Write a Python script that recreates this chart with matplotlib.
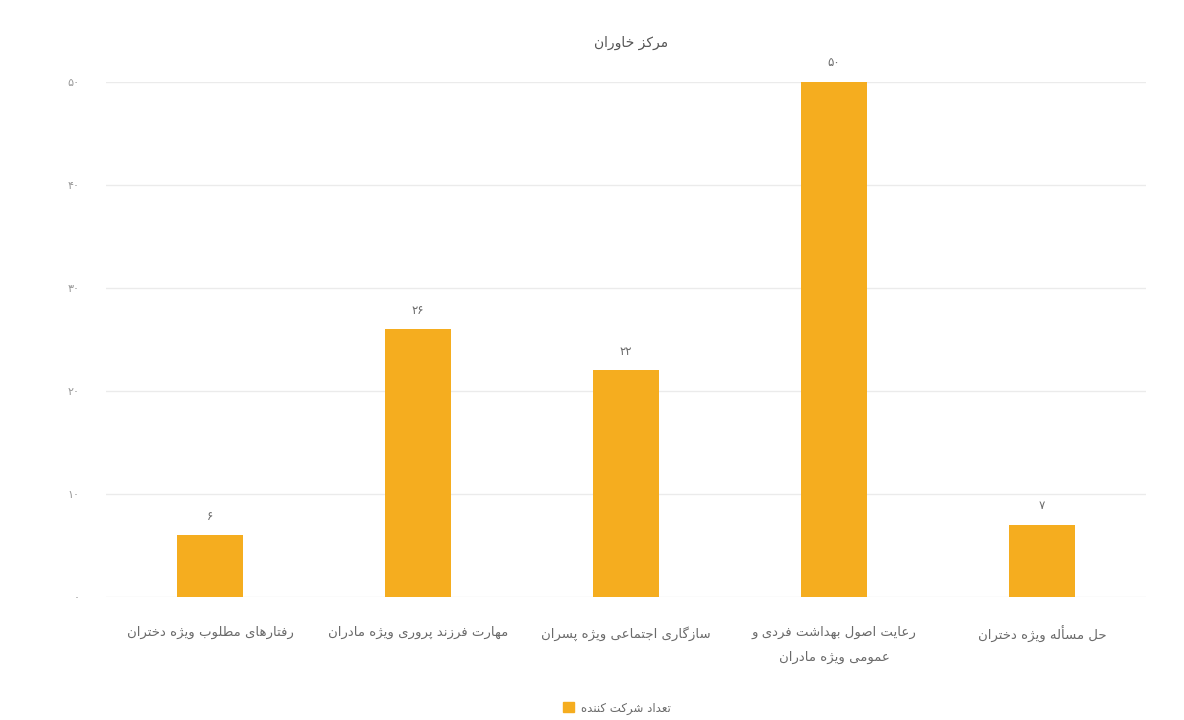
import matplotlib
matplotlib.use("Agg")
import matplotlib.pyplot as plt
from matplotlib.patches import Patch

# ---- data ----
title = "مرکز خاوران"
categories = [
    "رفتارهای مطلوب ویژه دختران",
    "مهارت فرزند پروری ویژه مادران",
    "سازگاری اجتماعی ویژه پسران",
    "رعایت اصول بهداشت فردی و\nعمومی ویژه مادران",
    "حل مسأله ویژه دختران",
]
participants = [6, 26, 22, 50, 7]
series_name = "تعداد شرکت کننده"
y_ticks = [0, 10, 20, 30, 40, 50]

# ---- minimal Arabic-script shaping (contextual forms + RTL order) ----
# letter: (isolated, final, initial, medial); None for initial/medial => right-joining only
FORMS = {
    "ا": (0xFE8D, 0xFE8E, None, None), "أ": (0xFE83, 0xFE84, None, None),
    "آ": (0xFE81, 0xFE82, None, None), "ب": (0xFE8F, 0xFE90, 0xFE91, 0xFE92),
    "پ": (0xFB56, 0xFB57, 0xFB58, 0xFB59), "ت": (0xFE95, 0xFE96, 0xFE97, 0xFE98),
    "ث": (0xFE99, 0xFE9A, 0xFE9B, 0xFE9C), "ج": (0xFE9D, 0xFE9E, 0xFE9F, 0xFEA0),
    "چ": (0xFB7A, 0xFB7B, 0xFB7C, 0xFB7D), "ح": (0xFEA1, 0xFEA2, 0xFEA3, 0xFEA4),
    "خ": (0xFEA5, 0xFEA6, 0xFEA7, 0xFEA8), "د": (0xFEA9, 0xFEAA, None, None),
    "ذ": (0xFEAB, 0xFEAC, None, None), "ر": (0xFEAD, 0xFEAE, None, None),
    "ز": (0xFEAF, 0xFEB0, None, None), "ژ": (0xFB8A, 0xFB8B, None, None),
    "س": (0xFEB1, 0xFEB2, 0xFEB3, 0xFEB4), "ش": (0xFEB5, 0xFEB6, 0xFEB7, 0xFEB8),
    "ص": (0xFEB9, 0xFEBA, 0xFEBB, 0xFEBC), "ض": (0xFEBD, 0xFEBE, 0xFEBF, 0xFEC0),
    "ط": (0xFEC1, 0xFEC2, 0xFEC3, 0xFEC4), "ظ": (0xFEC5, 0xFEC6, 0xFEC7, 0xFEC8),
    "ع": (0xFEC9, 0xFECA, 0xFECB, 0xFECC), "غ": (0xFECD, 0xFECE, 0xFECF, 0xFED0),
    "ف": (0xFED1, 0xFED2, 0xFED3, 0xFED4), "ق": (0xFED5, 0xFED6, 0xFED7, 0xFED8),
    "ک": (0xFB8E, 0xFB8F, 0xFB90, 0xFB91), "گ": (0xFB92, 0xFB93, 0xFB94, 0xFB95),
    "ل": (0xFEDD, 0xFEDE, 0xFEDF, 0xFEE0), "م": (0xFEE1, 0xFEE2, 0xFEE3, 0xFEE4),
    "ن": (0xFEE5, 0xFEE6, 0xFEE7, 0xFEE8), "ه": (0xFEE9, 0xFEEA, 0xFEEB, 0xFEEC),
    "و": (0xFEED, 0xFEEE, None, None), "ی": (0xFBFC, 0xFBFD, 0xFBFE, 0xFBFF),
    "ئ": (0xFE89, 0xFE8A, 0xFE8B, 0xFE8C),
}


def _dual(ch):
    return ch in FORMS and FORMS[ch][2] is not None


def shape_line(text):
    out = []
    n = len(text)
    for i, ch in enumerate(text):
        if ch not in FORMS:
            out.append(ch)
            continue
        prev_c = i > 0 and _dual(text[i - 1])
        next_c = _dual(ch) and i + 1 < n and text[i + 1] in FORMS
        iso, fin, ini, med = FORMS[ch]
        if prev_c and next_c:
            cp = med
        elif next_c:
            cp = ini
        elif prev_c:
            cp = fin
        else:
            cp = iso
        out.append(chr(cp))
    return "".join(reversed(out))


def shape(text):
    return "\n".join(shape_line(line) for line in text.split("\n"))


PERSIAN_DIGITS = str.maketrans("0123456789", "۰۱۲۳۴۵۶۷۸۹")


def fa_num(v):
    return str(v).translate(PERSIAN_DIGITS)


# ---- figure ----
plt.rcParams["font.family"] = ["DejaVu Sans"]
BAR = "#F5AD1F"
GRID = "#ebebeb"
TXT = "#6a6a6a"

fig = plt.figure(figsize=(11.84, 7.2), dpi=100)
fig.patch.set_facecolor("white")
ax = fig.add_axes([106 / 1184, 1 - 597 / 720, 1040 / 1184, (597 - 82) / 720])

x = list(range(len(categories)))
bars = ax.bar(x, participants, width=0.32, color=BAR, zorder=3)

ax.set_xlim(-0.5, len(categories) - 0.5)
ax.set_ylim(0, 50)
ax.set_yticks(y_ticks)
ax.set_yticklabels([fa_num(v) for v in y_ticks], color="#999999", fontsize=8)
ax.set_xticks(x)
ax.set_xticklabels([shape(c) for c in categories], color=TXT, fontsize=9.5,
                   linespacing=2.2, va="top")
ax.tick_params(axis="x", length=0, pad=21)
ax.tick_params(axis="y", length=0, pad=19)

ax.grid(axis="y", color=GRID, linewidth=1, zorder=0)
for s in ax.spines.values():
    s.set_visible(False)

for rect, v in zip(bars, participants):
    ax.annotate(fa_num(v), (rect.get_x() + rect.get_width() / 2, v),
                xytext=(0, 9), textcoords="offset points",
                ha="center", va="bottom", fontsize=8.5, color=TXT,
                annotation_clip=False)

fig.text(631 / 1184, 1 - 43 / 720, shape(title), ha="center", va="center",
         fontsize=10, color="#555555")

fig.legend(handles=[Patch(facecolor=BAR, edgecolor=BAR)], labels=[shape(series_name)],
           loc="center", bbox_to_anchor=(617 / 1184, 1 - 708 / 720), frameon=False,
           fontsize=8.5, labelcolor=TXT, handlelength=0.9, handleheight=0.9,
           handletextpad=0.6)

fig.savefig("out.png", dpi=100, facecolor="white")
